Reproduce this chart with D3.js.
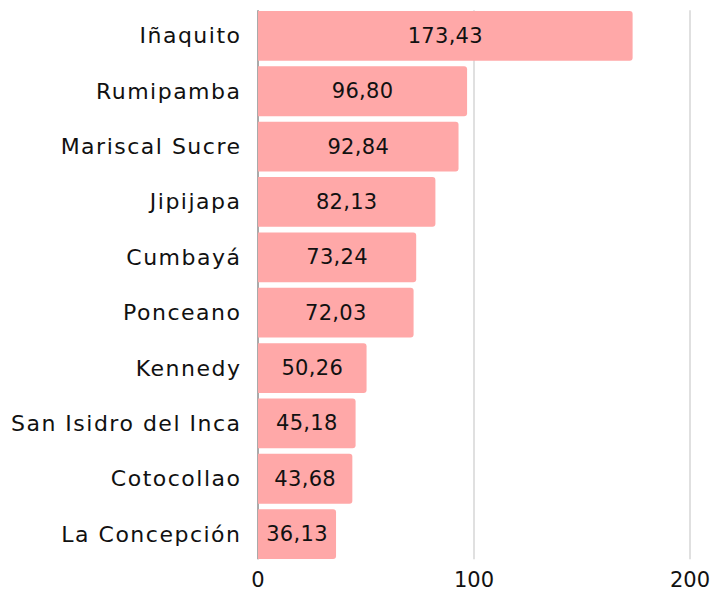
<!DOCTYPE html>
<html><head><meta charset="utf-8">
<script src="https://cdn.jsdelivr.net/npm/d3@7"></script>
<style>body{margin:0;background:#fff;}svg{display:block;font-family:"DejaVu Sans",sans-serif;}</style>
</head><body><svg id="c" width="713" height="594"></svg>
<script>
const categories = ["Iñaquito","Rumipamba","Mariscal Sucre","Jipijapa","Cumbayá","Ponceano","Kennedy","San Isidro del Inca","Cotocollao","La Concepción"];
const values = [173.43,96.80,92.84,82.13,73.24,72.03,50.26,45.18,43.68,36.13];
const xTicks = [0,100,200];

const svg = d3.select("#c");
const x = d3.scaleLinear().domain([0,200]).range([258,690]);
const y = d3.scaleBand().domain(categories).range([8.2,561.8]).paddingInner(0.1).paddingOuter(0.05);

// grid
svg.append("g").selectAll("line").data(xTicks.filter(d=>d>0)).join("line")
  .attr("x1",d=>x(d)).attr("x2",d=>x(d)).attr("y1",y.range()[0]+2).attr("y2",y.range()[1]-2.5)
  .attr("stroke","#d6d6d6").attr("stroke-width",1.5);
// y axis line
svg.append("line").attr("x1",x(0)).attr("x2",x(0)).attr("y1",y.range()[0]+2).attr("y2",y.range()[1]-2.5)
  .attr("stroke","#555").attr("stroke-width",1);

const r = 3;
function barPath(v,c){
  const x0=x(0), x1=x(v), y0=y(c), h=y.bandwidth();
  return `M${x0},${y0}H${x1-r}Q${x1},${y0} ${x1},${y0+r}V${y0+h-r}Q${x1},${y0+h} ${x1-r},${y0+h}H${x0}Z`;
}
svg.append("g").selectAll("path").data(categories).join("path")
  .attr("d",(c,i)=>barPath(values[i],c)).attr("fill","#ffa8a8");

const fmt = v => d3.format(".2f")(v).replace(".",",");
svg.append("g").selectAll("text").data(categories).join("text")
  .attr("x",(c,i)=>(x(0)+x(values[i]))/2).attr("y",c=>y(c)+y.bandwidth()/2)
  .attr("text-anchor","middle").attr("dominant-baseline","central")
  .attr("font-size",21).attr("letter-spacing",0.3).attr("fill","#111").text((c,i)=>fmt(values[i]));

svg.append("g").selectAll("text").data(categories).join("text")
  .attr("x",241.5).attr("y",c=>y(c)+y.bandwidth()/2)
  .attr("text-anchor","end").attr("dominant-baseline","central")
  .attr("font-size",22).attr("letter-spacing",1.5).attr("fill","#111").text(c=>c);

svg.append("g").selectAll("text").data(xTicks).join("text")
  .attr("x",d=>x(d)).attr("y",580).attr("text-anchor","middle").attr("dominant-baseline","central")
  .attr("font-size",21).attr("fill","#111").text(d=>d);
</script></body></html>
